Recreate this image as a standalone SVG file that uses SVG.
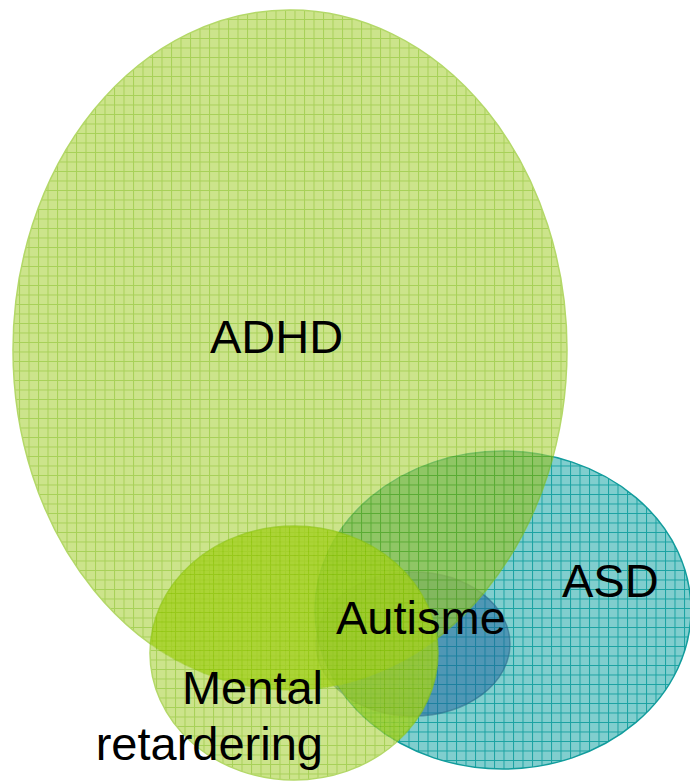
<svg xmlns="http://www.w3.org/2000/svg" width="690" height="781" viewBox="0 0 690 781">
<style>
.lbl{font-family:"Liberation Sans",Arial,sans-serif;font-size:47px;fill:#000}
.set{opacity:0.65}
</style>
<defs>
<pattern id="pGreen" patternUnits="userSpaceOnUse" width="9.5" height="9.5">
<rect width="9.5" height="9.5" fill="#b2d64e"/>
<path d="M0.5 0V9.5M0 0.5H9.5" stroke="#7ab800" stroke-width="1"/>
</pattern>
<pattern id="pGreen2" patternUnits="userSpaceOnUse" x="4" y="4" width="9.5" height="9.5">
<rect width="9.5" height="9.5" fill="#b2d64e"/>
<path d="M0.5 0V9.5M0 0.5H9.5" stroke="#7ab800" stroke-width="1"/>
</pattern>
<pattern id="pTeal" patternUnits="userSpaceOnUse" width="9.5" height="9.5">
<rect width="9.5" height="9.5" fill="#80cece"/>
<path d="M0.5 0V9.5M0 0.5H9.5" stroke="#1aa2a2" stroke-width="1"/>
</pattern>
<clipPath id="cASD"><ellipse cx="503" cy="610" rx="188" ry="159"/></clipPath>
<clipPath id="cUnder"><ellipse cx="503" cy="610" rx="188" ry="159"/><ellipse cx="290" cy="350" rx="277" ry="340"/></clipPath>
</defs>
<rect width="690" height="781" fill="#fff"/>
<g id="asd">
<ellipse cx="503" cy="610" rx="188" ry="159" fill="url(#pTeal)" stroke="#129c9c" stroke-width="1.5"/>
</g>
<g id="autisme">
<ellipse cx="413" cy="644" rx="97" ry="72" fill="#1e5f9b" fill-opacity="0.5" stroke="#2a6a8a" stroke-opacity="0.6" stroke-width="1.5"/>
</g>
<g id="adhd">
<ellipse class="set" cx="290" cy="350" rx="277" ry="340" fill="url(#pGreen)" stroke="#8cc418" stroke-width="1.5"/>
<ellipse cx="290" cy="350" rx="277" ry="340" fill="#5aa028" fill-opacity="0.25" clip-path="url(#cASD)"/>
</g>
<g id="mental">
<ellipse class="set" cx="294" cy="653" rx="144" ry="127" fill="url(#pGreen2)" stroke="#8cc418" stroke-width="1.5"/>
<ellipse cx="294" cy="653" rx="144" ry="127" fill="#9acd00" fill-opacity="0.45" clip-path="url(#cUnder)"/>
</g>
<g id="connectors"/>
<g id="labels">
<text class="lbl" x="210" y="353">ADHD</text>
<text class="lbl" x="562" y="597">ASD</text>
<text class="lbl" x="336" y="634">Autisme</text>
<text class="lbl" x="323" y="704" text-anchor="end">Mental</text>
<text class="lbl" x="323" y="760" text-anchor="end">retardering</text>
</g>
</svg>
